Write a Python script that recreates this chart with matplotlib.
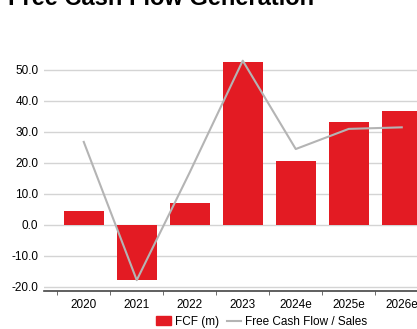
import numpy as np
import matplotlib
import matplotlib.pyplot as plt
from matplotlib.lines import Line2D
from matplotlib.patches import Patch

matplotlib.use('agg')

plt.rcParams['font.family'] = ['Liberation Sans', 'DejaVu Sans']

years = ['2020', '2021', '2022', '2023', '2024e', '2025e', '2026e']
fcf = [4.5, -17.8, 7.0, 52.7, 20.8, 33.1, 36.8]
fcf_sales = [26.8, -17.8, 17.0, 53.0, 24.5, 31.0, 31.5]
yticks = [-20, -10, 0, 10, 20, 30, 40, 50]

W, H = 417, 329
fig = plt.figure(figsize=(W / 100, H / 100), dpi=100)
ax = fig.add_axes([44 / W, (H - 291) / H, 397.5 / W, (291 - 39) / H])

x = np.arange(len(years))
ax.bar(x, fcf, width=0.75, color='#e31b23', zorder=2)
ax.plot(x, fcf_sales, color='#b4b4b4', lw=1.5, zorder=3)

ax.set_xlim(-0.75, len(years) - 0.25)
ax.set_ylim(-21.3, 60)
ax.set_yticks(yticks)
ax.set_yticklabels(['%.1f' % v for v in yticks], fontsize=8.5)
ax.set_xticks(x)
ax.set_xticklabels(years, fontsize=8.5)
ax.set_xticks(np.arange(-0.5, len(years)), minor=True)
ax.tick_params(axis='x', which='major', length=0, pad=6)
ax.tick_params(axis='x', which='minor', length=3, color='#555555', direction='out')
ax.tick_params(axis='y', length=0, pad=4)
ax.grid(axis='y', color='#d4d4d4', lw=1, zorder=0)
for s in ['top', 'right', 'left']:
    ax.spines[s].set_visible(False)
ax.spines['bottom'].set_color('#444444')
ax.spines['bottom'].set_linewidth(1.2)

fig.text(8 / W, 1 - 5 / H, 'Free Cash Flow Generation', fontsize=17,
         fontweight='bold', va='baseline', ha='left')

handles = [Patch(color='#e31b23', label='FCF (m)'),
           Line2D([], [], color='#b4b4b4', lw=1.5, label='Free Cash Flow / Sales')]
fig.legend(handles=handles, loc='center', bbox_to_anchor=(262 / W, 1 - 322 / H),
           ncol=2, frameon=False, fontsize=8.5, handlelength=1.2, handleheight=0.8,
           columnspacing=0.6, handletextpad=0.4)

fig.savefig('out.png', dpi=100)
